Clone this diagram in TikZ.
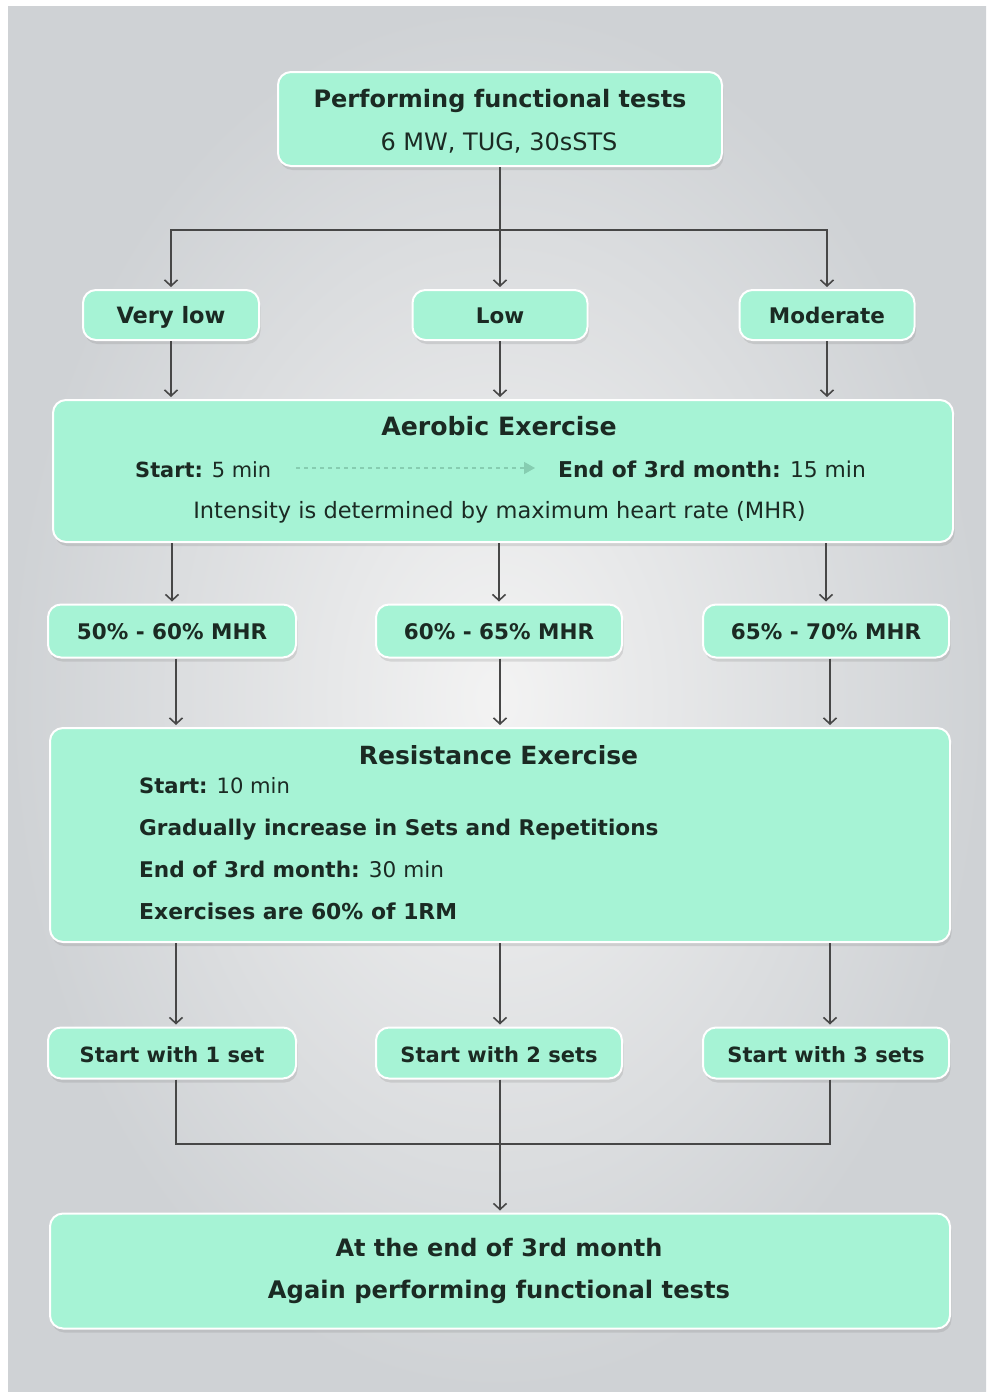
\documentclass[tikz,border=0pt]{standalone}
\usepackage{fontspec}
\setmainfont{DejaVu Sans}
\usetikzlibrary{arrows.meta,shadows,calc}
\definecolor{mint}{HTML}{A6F3D5}
\definecolor{bgedge}{HTML}{CFD2D5}
\definecolor{bgmid}{HTML}{F3F3F3}
\definecolor{txt}{HTML}{1B2A23}
\definecolor{conn}{HTML}{474747}
\definecolor{dashc}{HTML}{86CDB1}
\begin{document}
\begin{tikzpicture}[x=1pt,y=-1pt,
  box/.style={draw=white, line width=2pt, fill=mint, rounded corners=13pt,
    drop shadow={opacity=0.22, shadow xshift=1.5pt, shadow yshift=-4pt},
    inner sep=0pt},
  link/.style={draw=conn, line width=1.8pt},
  arr/.style={link, shorten >=2pt, -{Straight Barb[length=6pt,width=13pt,line width=1.6pt]}},
  ttl/.style={text=txt, inner sep=0pt, anchor=base, font=\bfseries\fontsize{24.2}{28}\selectfont},
  lbl/.style={text=txt, inner sep=0pt, anchor=base, font=\bfseries\fontsize{21.5}{25}\selectfont},
  body/.style={text=txt, inner sep=0pt, anchor=base west, font=\fontsize{21.6}{25}\selectfont},
  dasharr/.style={draw=dashc, line width=1.5pt, dash pattern=on 4pt off 4pt,
    -{Triangle[length=11pt,width=12pt,fill=dashc]}},
]
% background
\fill[white] (0,0) rectangle (986,1392);
\shade[inner color=bgmid, outer color=bgedge] (8,6) rectangle (986,1392);

% boxes
\node[box, minimum width=444pt, minimum height=94pt] (top) at (500,119) {};
\node[box, minimum width=176pt, minimum height=50pt] (vlow) at (171,315) {};
\node[box, minimum width=175pt, minimum height=50pt] (low) at (500,315) {};
\node[box, minimum width=175pt, minimum height=50pt] (mod) at (827,315) {};
\node[box, minimum width=900pt, minimum height=142pt] (aer) at (503,471) {};
\node[box, minimum width=248pt, minimum height=53pt] (m1) at (172,631) {};
\node[box, minimum width=246pt, minimum height=53pt] (m2) at (499,631) {};
\node[box, minimum width=246pt, minimum height=53pt] (m3) at (826,631) {};
\node[box, minimum width=900pt, minimum height=214pt] (res) at (500,835) {};
\node[box, minimum width=248pt, minimum height=51pt] (s1) at (172,1053) {};
\node[box, minimum width=246pt, minimum height=51pt] (s2) at (499,1053) {};
\node[box, minimum width=246pt, minimum height=51pt] (s3) at (826,1053) {};
\node[box, minimum width=900pt, minimum height=115pt] (fin) at (500,1271) {};

% texts
\node[ttl, font=\bfseries\fontsize{24}{28}\selectfont] (topa) at (500,107) {Performing functional tests};
\node[ttl, font=\fontsize{24}{28}\selectfont] (topb) at (499,150) {6 MW, TUG, 30sSTS};
\node[lbl, font=\bfseries\fontsize{22.5}{25}\selectfont] (vlowt) at (171,323) {Very low};
\node[lbl] (lowt) at (500,323) {Low};
\node[lbl] (modt) at (827,323) {Moderate};
\node[ttl, font=\bfseries\fontsize{25.2}{28}\selectfont] (aert) at (499,435) {Aerobic Exercise};
\node[body, font=\fontsize{20.9}{25}\selectfont] (aers) at (135,477) {\textbf{Start:} 5 min};
\node[body, font=\fontsize{21.8}{25}\selectfont] (aere) at (558,477) {\textbf{End of 3rd month:} 15 min};
\node[body, anchor=base, font=\fontsize{22.5}{26}\selectfont] (aeri) at (499.5,518) {Intensity is determined by maximum heart rate (MHR)};
\node[lbl] (m1t) at (172,639) {50\% - 60\% MHR};
\node[lbl] (m2t) at (499,639) {60\% - 65\% MHR};
\node[lbl] (m3t) at (826,639) {65\% - 70\% MHR};
\node[ttl, font=\bfseries\fontsize{25}{28}\selectfont] (rest) at (498.5,764) {Resistance Exercise};
\node[body, font=\fontsize{21.1}{25}\selectfont] (res1) at (139,793) {\textbf{Start:} 10 min};
\node[body] (res2) at (139,835) {\textbf{Gradually increase in Sets and Repetitions}};
\node[body] (res3) at (139,877) {\textbf{End of 3rd month:} 30 min};
\node[body, font=\fontsize{21.9}{25}\selectfont] (res4) at (139,919) {\textbf{Exercises are 60\% of 1RM}};
\node[lbl, font=\bfseries\fontsize{21}{25}\selectfont] (s1t) at (172,1062) {Start with 1 set};
\node[lbl, font=\bfseries\fontsize{21}{25}\selectfont] (s2t) at (499,1062) {Start with 2 sets};
\node[lbl, font=\bfseries\fontsize{21}{25}\selectfont] (s3t) at (826,1062) {Start with 3 sets};
\node[ttl, font=\bfseries\fontsize{24}{28}\selectfont] (fina) at (499,1256) {At the end of 3rd month};
\node[ttl] (finb) at (499,1298) {Again performing functional tests};

% dashed arrow in aerobic box
\coordinate (d1) at (296,468);
\coordinate (d2) at (535,468);
\draw[dasharr] (d1) -- (d2);

% connectors
\coordinate (split) at (500,230);
\draw[arr] (top.south) -- (low.north);
\draw[arr] (split) -| (vlow.north);
\draw[arr] (split) -| (mod.north);

\draw[arr] (vlow.south) -- (vlow.south |- aer.north);
\draw[arr] (low.south) -- (low.south |- aer.north);
\draw[arr] (mod.south) -- (mod.south |- aer.north);

\draw[arr] (m1.north |- aer.south) -- (m1.north);
\draw[arr] (m2.north |- aer.south) -- (m2.north);
\draw[arr] (m3.north |- aer.south) -- (m3.north);

\draw[arr] ([xshift=4pt]m1.south) -- ([xshift=4pt]m1.south |- res.north);
\draw[arr] ([xshift=1pt]m2.south) -- ([xshift=1pt]m2.south |- res.north);
\draw[arr] ([xshift=4pt]m3.south) -- ([xshift=4pt]m3.south |- res.north);

\draw[arr] ([xshift=4pt]s1.north |- res.south) -- ([xshift=4pt]s1.north);
\draw[arr] ([xshift=1pt]s2.north |- res.south) -- ([xshift=1pt]s2.north);
\draw[arr] ([xshift=4pt]s3.north |- res.south) -- ([xshift=4pt]s3.north);

\coordinate (merge) at (500,1144);
\draw[link] ([xshift=4pt]s1.south) |- (merge);
\draw[link] ([xshift=4pt]s3.south) |- (merge);
\draw[arr] ([xshift=1pt]s2.south) -- ([xshift=1pt]s2.south |- fin.north);
\end{tikzpicture}
\end{document}
